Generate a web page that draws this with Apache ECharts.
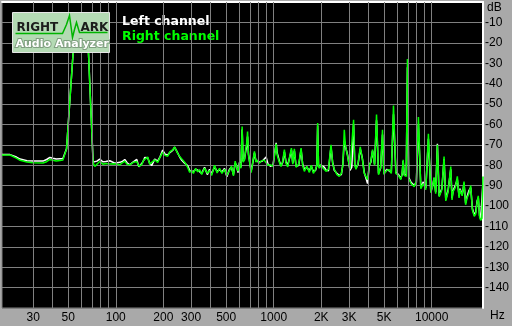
<!DOCTYPE html>
<html>
<head>
<meta charset="utf-8">
<script src="https://cdn.jsdelivr.net/npm/echarts@6/dist/echarts.min.js"></script>
<style>
  html, body { margin: 0; padding: 0; background: #a9a9a9; }
  #chart { width: 512px; height: 326px; }
</style>
</head>
<body>
<div id="chart"></div>
<script>
// spectrum, frequency in Hz, level in dB
const freqs = [
  19.05, 21.4, 22.0, 23.5, 24.8, 27.4, 29.9, 34.6, 36.5, 38.3, 40, 42, 44.3, 46.3, 47.5,
  48.8, 53.7, 55.9, 59.7, 63.7, 67.2, 71.9, 73.7, 76, 79.2, 82.8, 86.5, 91.7, 98.6,
  106, 110, 114, 118, 122.6, 129.9, 135.8, 140, 146, 150, 152.5, 159.3, 164, 168.8,
  176.4, 184.2, 191, 198.2, 205, 213.1, 220, 225.8, 230, 235.9, 246.5, 253.8, 262,
  272.9, 285, 294, 302, 310, 320, 330, 339, 350, 365, 380, 392.6, 405, 422, 438, 454,
  470, 488, 505, 525, 540, 556, 570, 581, 594, 607, 620, 631, 640, 653, 665, 675, 683,
  692, 705, 720, 738, 755, 772, 789, 810, 830, 848, 870, 895, 920, 953, 990,
  1036, 1052, 1071, 1090, 1113, 1140, 1168, 1195, 1226, 1260, 1294, 1320, 1351, 1385,
  1440, 1490, 1525, 1563, 1620, 1681, 1730, 1782, 1840, 1875, 1897, 1920, 1945, 1990,
  2031, 2090, 2143, 2220, 2305, 2360, 2418, 2510, 2601, 2680, 2740, 2797, 2840, 2935,
  3039, 3120, 3203, 3260, 3317, 3420, 3530, 3640, 3741, 3926, 4024, 4120, 4222, 4350,
  4475, 4607, 4750, 4883, 4980, 5200, 5383, 5550, 5730, 5933, 6150, 6379, 6500, 6596,
  6700, 6900, 7023, 7150, 7400, 7743, 8000, 8241, 8533, 8850, 9179, 9533, 9870, 10100,
  10356, 10600, 10865, 11150, 11600, 11976, 12278, 12697, 13206, 13450, 13654, 14100,
  14534, 14900, 15116, 15600, 16022, 16400, 16736, 17200, 17660, 18100, 18600, 18990,
  19400, 19724, 20100, 20427, 20800, 21120
]
const rightDb = [
  -75, -75, -75.2, -76.5, -77.6, -78.4, -78.8, -78.9, -78.3, -77.2, -77.6, -77.9, -77.7, -77.4, -76.5,
  -72, -25, -13, -11, -13, -25, -79, -80.6, -79.5, -78.2, -79.5, -79.2, -79.4, -79.3,
  -79.8, -78.8, -78, -79.6, -79.8, -78.5, -78.2, -80.5, -79.8, -77.5, -76.8, -76, -79.5, -80,
  -77.3, -78.6, -76, -73.6, -75.2, -75.6, -73.5, -74.3, -72.4, -71, -74.2, -75.7, -77,
  -78.5, -81, -83.5, -82.5, -84, -81.6, -83.2, -82.2, -84.5, -81.4, -84, -82.6, -85, -80, -83.8, -81.5,
  -84, -82, -85, -82.6, -80.5, -85.2, -78, -80.5, -83, -79, -81.5, -61, -78.5, -77.5, -72, -69, -63.5,
  -75, -79, -83.7, -78, -73.2, -78.5, -77.5, -79, -78, -78.5, -77.5, -76.7, -80, -79.8, -80.5,
  -69.5, -75, -74.5, -79, -80.6, -78, -72.4, -79, -80.8, -76, -71.6, -79.5, -72, -81,
  -79.5, -71.6, -80, -83, -80.5, -83.5, -80, -84, -82, -80.2, -59.3, -80, -81.5, -79.5,
  -81, -80.5, -83, -82, -70, -79, -82, -84.5, -85.5, -84, -80, -62.6, -70, -75.7,
  -82, -81.5, -57.7, -80, -82, -79, -71, -77, -84, -87.1, -80.5, -78, -72.4, -80,
  -55.2, -84.7, -81, -62.6, -84.5, -82.5, -82.2, -84, -50.8, -84, -85, -87.1, -84, -77.3,
  -85, -85.5, -28, -86.5, -89, -90.5, -88, -56.4, -91.5, -89, -92, -64.6, -93.5, -91,
  -86, -94, -70, -95.5, -92, -75.8, -97.5, -93, -80.7, -97, -93, -91,
  -85.5, -96, -92, -95, -88, -99.4, -96, -94, -90, -102, -105, -104,
  -98, -95, -105.5, -107, -106, -85.5
]
const leftDb = [
  -74.8, -74.8, -75, -76, -77, -77.8, -77.9, -78, -77.2, -76.2, -76.6, -77, -76.8, -76.7, -76,
  -72, -25, -13, -11, -13, -25, -78.5, -78.8, -78, -77, -78.3, -78.2, -77.8, -79,
  -78.6, -78.2, -77.2, -78.8, -79.8, -78.2, -77.2, -80.8, -79.2, -77.8, -76.2, -76.3, -79, -80.2,
  -77, -78, -75.8, -72.6, -74.6, -75, -73.8, -73.6, -72.6, -71.2, -74, -76, -77.6,
  -79, -80.2, -82.6, -83, -83.2, -82, -82.4, -83, -84, -81, -84.6, -82, -84.2, -80.8, -83, -82.2,
  -83.4, -81.6, -85.6, -82, -81, -84.6, -79, -80, -83.6, -78.6, -81, -62.5, -78, -77, -73, -70.5, -66,
  -74.5, -78.6, -82.8, -78.6, -74, -78, -77.8, -78.4, -78.5, -78, -77.2, -76, -79.5, -80.5, -80,
  -69, -74, -74.8, -78.5, -80.2, -78.6, -73.5, -78.4, -80, -76.5, -72.5, -79, -73, -80.5,
  -80, -72.4, -79.4, -82, -81, -82.8, -80.5, -83.2, -82.5, -80, -60.5, -79.5, -81, -80,
  -80.6, -81, -82.4, -82.8, -71, -78.6, -82.5, -84, -85, -84.6, -79.5, -68, -70.5, -75,
  -82.5, -81, -60, -79.6, -81.5, -79.5, -72, -76.6, -83.5, -89, -80, -78.5, -73, -79.5,
  -58, -84, -81.5, -65, -84, -82, -82.8, -83.5, -55, -83.6, -84.5, -86.5, -84.5, -78,
  -84.6, -85, -32, -86, -88.4, -89.8, -88.5, -60, -90.8, -88.2, -91.2, -67, -92.8, -90.5,
  -86.5, -93.2, -69.5, -95, -91.4, -77, -96.8, -92.4, -82, -96.2, -92.5, -90,
  -87, -95.2, -91.5, -94.6, -89, -98.6, -95.4, -92.5, -91, -101.2, -104.4, -103,
  -97.5, -96, -104.8, -106.2, -105.6, -88
]
// vertical grid lines and the labelled ones
const gridFreqs = [30, 40, 50, 60, 70, 80, 90, 100, 200, 300, 400, 500, 600, 700, 800, 900,
  1000, 2000, 3000, 4000, 5000, 6000, 7000, 8000, 9000, 10000]
const xTickFreqs = [30, 50, 100, 200, 300, 500, 1000, 2000, 3000, 5000, 10000]
const xTickLabels = ['30', '50', '100', '200', '300', '500', '1000', '2K', '3K', '5K', '10000']

const minFreq = 19.05
const maxFreq = 21120
const labelFont = "'Liberation Sans Narrow', 'Liberation Sans', Arial, sans-serif"
const logoFont = "'DejaVu Sans', Verdana, sans-serif"

const chart = echarts.init(document.getElementById('chart'))

const toPoints = levels => freqs.map((f, i) => [Math.log10(f), levels[i]])

const option = {
    backgroundColor: '#a9a9a9',
    animation: false,
    grid: {
        left: 2,
        right: 27,
        top: 2,
        bottom: 18,
        show: true,
        backgroundColor: '#000',
        borderColor: '#808080',
        borderWidth: 1
    },
    legend: {
        orient: 'vertical',
        left: 112,
        top: 10,
        itemGap: 2,
        itemWidth: 0,
        itemHeight: 0,
        icon: 'none',
        selectedMode: false,
        textStyle: {
            fontFamily: logoFont,
            fontSize: 12.5,
            fontWeight: 'bold'
        },
        data: [
            { name: 'Left channel', textStyle: { color: '#ffffff' } },
            { name: 'Right channel', textStyle: { color: '#00ff00' } }
        ]
    },
    xAxis: {
        type: 'value',
        min: Math.log10(minFreq),
        max: Math.log10(maxFreq),
        axisLine: { show: true, lineStyle: { color: '#ffffff', width: 2 } },
        axisTick: { show: false },
        splitLine: { show: false },
        axisLabel: {
            customValues: xTickFreqs.map(f => Math.log10(f)),
            color: '#000',
            fontFamily: labelFont,
            fontSize: 12,
            margin: 4,
            formatter: v => {
                const i = xTickFreqs.findIndex(f => Math.abs(Math.log10(f) - v) < 1e-6)
                return i >= 0 ? xTickLabels[i] : ''
            }
        }
    },
    yAxis: {
        type: 'value',
        position: 'right',
        min: -150,
        max: 0,
        interval: 10,
        axisLine: { show: true, lineStyle: { color: '#ffffff', width: 2 } },
        axisTick: { show: false },
        splitLine: { show: true, lineStyle: { color: '#808080', width: 1 } },
        axisLabel: {
            color: '#000',
            fontFamily: labelFont,
            fontSize: 12,
            margin: 2,
            formatter: v => (v === 0 || v === -150) ? '' : String(v)
        }
    },
    graphic: [
        { type: 'text', left: 487, top: 2, style: { text: 'dB', fill: '#000', font: '12px ' + labelFont } },
        { type: 'text', left: 490, top: 310, style: { text: 'Hz', fill: '#000', font: '12px ' + labelFont } },
        // RightMark logo, drawn over the plot
        {
            type: 'group',
            left: 12,
            top: 12,
            zlevel: 1,
            children: [
                { type: 'rect', z: 100, shape: { x: 0, y: 0, width: 97, height: 40 },
                  style: { fill: '#b4dab4', stroke: '#e6e6e6', lineWidth: 1 } },
                { type: 'text', z: 101, x: 4, y: 9, style: { text: 'RIGHT', fill: '#1c1c1c',
                  font: 'bold 12px ' + logoFont } },
                { type: 'text', z: 101, x: 68, y: 9, style: { text: 'ARK', fill: '#1c1c1c',
                  font: 'bold 12px ' + logoFont } },
                { type: 'polyline', z: 101, shape: { points: [[3, 21], [50, 21], [54, 12], [57, 3], [60, 25],
                  [62, 17], [64, 10], [67, 20], [95, 20]] },
                  style: { stroke: '#00b400', lineWidth: 1.5, fill: null } },
                { type: 'text', z: 101, x: 3, y: 26, style: { text: 'Audio Analyzer', fill: '#ffffff',
                  font: 'bold 11px ' + logoFont, stroke: '#7f9f7f', lineWidth: 2, strokeFirst: true } }
            ]
        }
    ],
    series: [
        {
            type: 'line',
            data: [],
            z: 1,
            silent: true,
            markLine: {
                silent: true,
                symbol: ['none', 'none'],
                label: { show: false },
                lineStyle: { color: '#808080', width: 1, type: 'solid' },
                emphasis: { disabled: true },
                data: gridFreqs.map(f => ({ xAxis: Math.log10(f) }))
            }
        },
        {
            name: 'Left channel',
            type: 'line',
            z: 2,
            data: toPoints(leftDb),
            showSymbol: false,
            symbol: 'none',
            lineStyle: { color: '#ffffff', width: 1.5 },
            itemStyle: { color: '#ffffff' }
        },
        {
            name: 'Right channel',
            type: 'line',
            z: 3,
            data: toPoints(rightDb),
            showSymbol: false,
            symbol: 'none',
            lineStyle: { color: '#00ff00', width: 1.5 },
            itemStyle: { color: '#00ff00' }
        }
    ]
}

chart.setOption(option)
</script>
</body>
</html>
